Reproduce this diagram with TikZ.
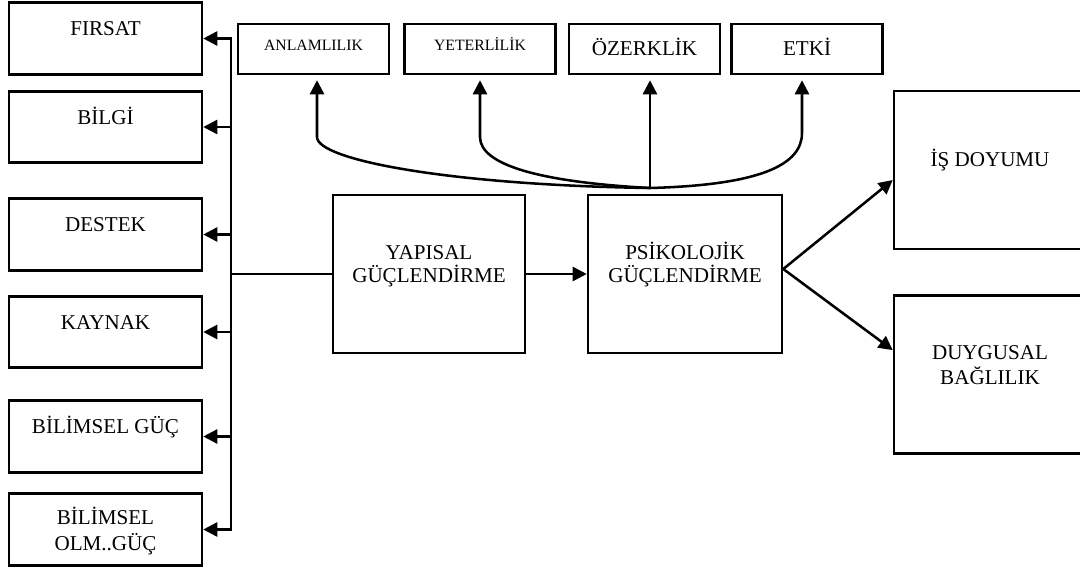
\documentclass[tikz,border=0pt]{standalone}
\usepackage{fontspec}
\setmainfont{Liberation Serif}
\usetikzlibrary{arrows.meta}

\begin{document}
\begin{tikzpicture}[>={Triangle[length=3.5mm,width=3.5mm]},line width=1.8pt,
    font=\fontsize{15}{17}\selectfont,
    side/.style={draw,minimum width=4.825cm,minimum height=1.7875cm,
      align=center,text height=3.5mm,text depth=5mm},
    facet/.style={draw,minimum width=3.775cm,minimum height=1.25cm,
      text height=3.5mm,text depth=0.5mm},
    smallfacet/.style={facet,font=\fontsize{11.2}{13}\selectfont,
      text height=2.6mm,text depth=2mm},
    block/.style={draw,minimum width=4.8cm,minimum height=3.95cm,
      align=center,text height=4.2mm,text depth=0mm}]
    \useasboundingbox (0,0) rectangle (27,-14.225);

    \node[side] (fr) at (2.6375,-0.9625) {FIRSAT};
    \node[side] (bl) at (2.6375,-3.175) {BİLGİ};
    \node[side] (ds) at (2.6375,-5.8625) {DESTEK};
    \node[side] (ky) at (2.6375,-8.3) {KAYNAK};
    \node[side] (bg) at (2.6375,-10.9125) {BİLİMSEL GÜÇ};
    \node[side,font=\fontsize{15}{18.4}\selectfont,text height=10.25mm,
      text depth=0mm] (bo) at (2.6375,-13.2375) {BİLİMSEL\\OLM..GÜÇ};

    \node[smallfacet] (anl) at (7.8375,-1.225) {ANLAMLILIK};
    \node[smallfacet] (yet) at (12,-1.225) {YETERLİLİK};
    \node[facet] (ozr) at (16.1125,-1.225) {ÖZERKLİK};
    \node[facet] (etk) at (20.175,-1.225) {ETKİ};

    \node[block,font=\fontsize{15}{16.3}\selectfont] (yap) at (10.725,-6.85)
      {YAPISAL\\GÜÇLENDİRME};
    \node[block,font=\fontsize{15}{16.3}\selectfont,minimum width=4.85cm]
      (psi) at (17.125,-6.85) {PSİKOLOJİK\\GÜÇLENDİRME};
    \node[block,text height=3.5mm,text depth=5.25mm] (isd) at (24.75,-4.25)
      {İŞ DOYUMU};
    \node[block,font=\fontsize{15}{17.7}\selectfont,text height=4.75mm]
      (dug) at (24.75,-9.3625) {DUYGUSAL\\BAĞLILIK};

    \coordinate (bus) at (5.775,0);
    \coordinate (hub) at (16.25,-4.7);
    \coordinate (k1) at (7.925,-3.425);
    \coordinate (k2) at (12,-3.425);
    \coordinate (k3) at (20.05,-3.325);

    \draw[line cap=rect] (fr.east -| bus) -- (bo.east -| bus);
    \draw[->] (fr.east -| bus) -- (fr.east);
    \draw[->] (bl.east -| bus) -- (bl.east);
    \draw[->] (ds.east -| bus) -- (ds.east);
    \draw[->] (ky.east -| bus) -- (ky.east);
    \draw[->] (bg.east -| bus) -- (bg.east);
    \draw[->] (bo.east -| bus) -- (bo.east);
    \draw (yap.west -| bus) -- (yap.west);

    \draw[->] (yap) -- (psi);
    \draw[->] ([yshift=1.25mm]psi.east) -- ([yshift=-2.5mm]isd.west);
    \draw[->] ([yshift=1.25mm]psi.east) -- ([yshift=6.1mm]dug.west);

    \draw[->,shorten >=1.25mm] (hub) -- (hub |- ozr.south);
    \draw[->,shorten >=1.25mm] (hub) .. controls +(-5,0.075) and +(0,-0.575)
      .. (k1) -- (k1 |- anl.south);
    \draw[->,shorten >=1.25mm] (hub) .. controls +(-2.75,0.15) and +(0,-0.7)
      .. (k2) -- (k2 |- yet.south);
    \draw[->,shorten >=1.25mm] (hub) .. controls +(2.75,0.075) and +(0,-0.8)
      .. (k3) -- (k3 |- etk.south);
  \end{tikzpicture}
\end{document}
